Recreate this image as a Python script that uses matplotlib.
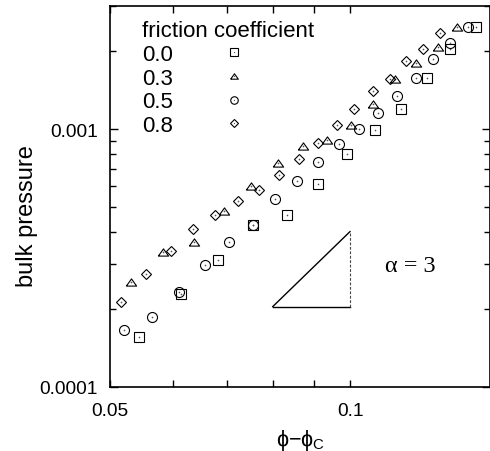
import numpy as np
import matplotlib
matplotlib.use("Agg")
import matplotlib.pyplot as plt
from matplotlib.legend_handler import HandlerTuple
from matplotlib.ticker import FixedLocator, NullFormatter

plt.rcParams["font.family"] = ["Liberation Sans", "DejaVu Sans"]

# friction coefficient 0.0 (squares)
x_00 = [0.0544, 0.0613, 0.0684, 0.0755, 0.0834, 0.0912, 0.0991, 0.1076,
        0.1159, 0.1249, 0.1336, 0.1439]
y_00 = [1.56e-4, 2.29e-4, 3.12e-4, 4.26e-4, 4.64e-4, 6.15e-4, 8.00e-4, 9.91e-4,
        1.20e-3, 1.58e-3, 2.05e-3, 2.49e-3]

# 0.3 (triangles)
x_03 = [0.0531, 0.0582, 0.0638, 0.0694, 0.0751, 0.0812, 0.0873, 0.0937,
        0.1002, 0.1070, 0.1140, 0.1211, 0.1288, 0.1363]
y_03 = [2.56e-4, 3.34e-4, 3.64e-4, 4.81e-4, 6.04e-4, 7.38e-4, 8.63e-4, 9.08e-4,
        1.04e-3, 1.25e-3, 1.57e-3, 1.81e-3, 2.08e-3, 2.49e-3]

# 0.5 (circles)
x_05 = [0.0521, 0.0565, 0.0611, 0.0658, 0.0706, 0.0755, 0.0806, 0.0857,
        0.0912, 0.0969, 0.1026, 0.1085, 0.1146, 0.1209, 0.1271, 0.1336, 0.1405]
y_05 = [1.67e-4, 1.86e-4, 2.34e-4, 2.98e-4, 3.64e-4, 4.26e-4, 5.36e-4, 6.30e-4,
        7.42e-4, 8.77e-4, 1.00e-3, 1.15e-3, 1.34e-3, 1.58e-3, 1.87e-3, 2.16e-3, 2.48e-3]

# 0.8 (diamonds)
x_08 = [0.0516, 0.0555, 0.0596, 0.0635, 0.0678, 0.0723, 0.0769, 0.0815,
        0.0862, 0.0911, 0.0962, 0.1013, 0.1068, 0.1124, 0.1177, 0.1236, 0.1297]
y_08 = [2.13e-4, 2.74e-4, 3.38e-4, 4.08e-4, 4.64e-4, 5.27e-4, 5.83e-4, 6.65e-4,
        7.63e-4, 8.83e-4, 1.04e-3, 1.20e-3, 1.40e-3, 1.56e-3, 1.83e-3, 2.05e-3, 2.35e-3]

labels = ["0.0", "0.3", "0.5", "0.8"]

# slope triangle (alpha = 3)
slope_x = [0.08, 0.1]
slope_y0 = 2.05e-4
slope_y1 = slope_y0 * (slope_x[1] / slope_x[0]) ** 3

tri = [(-1, -0.7), (1, -0.7), (0, 0.7), (-1, -0.7)]
series = [
    (x_00, y_00, "s", 7.2),
    (x_03, y_03, tri, 7.4),
    (x_05, y_05, "o", 7.2),
    (x_08, y_08, "D", 5.0),
]

fig = plt.figure(figsize=(4.9, 4.52), dpi=100)
ax = fig.add_axes([110 / 490, 64 / 452, 380.4 / 490, 381 / 452])

handles = []
for (xs, ys, m, ms) in series:
    h1, = ax.plot(xs, ys, ls="none", marker=m, ms=ms, mfc="none",
                  mec="black", mew=0.8)
    h2, = ax.plot(xs, ys, ls="none", marker="o", ms=1.2, mfc="#555555",
                  mec="none")
    handles.append((h1, h2))

ax.plot(slope_x, [slope_y0, slope_y1], color="black", lw=1.0)
ax.plot(slope_x, [slope_y0, slope_y0], color="black", lw=1.0)
ax.plot([slope_x[1], slope_x[1]], [slope_y0, slope_y1], color="#444444",
        lw=0.8, ls=(0, (2.5, 1.5)))
ax.text(0.79, 0.318, "α = 3", transform=ax.transAxes, ha="center",
        va="center", fontsize=17.5, family="Liberation Serif")

ax.set_xscale("log")
ax.set_yscale("log")
ax.set_xlim(0.05, 0.15)
ax.set_ylim(1e-4, 3e-3)

ax.xaxis.set_major_locator(FixedLocator([0.05, 0.1]))
ax.xaxis.set_minor_locator(FixedLocator([0.06, 0.07, 0.08, 0.09]))
ax.set_xticklabels(["0.05", "0.1"])
ax.xaxis.set_minor_formatter(NullFormatter())
ax.yaxis.set_major_locator(FixedLocator([1e-4, 1e-3]))
ax.yaxis.set_minor_locator(FixedLocator(
    [2e-4, 3e-4, 4e-4, 5e-4, 6e-4, 7e-4, 8e-4, 9e-4, 2e-3, 3e-3]))
ax.set_yticklabels(["0.0001", "0.001"])
ax.yaxis.set_minor_formatter(NullFormatter())

ax.tick_params(which="both", direction="in", top=True, right=True,
               labelsize=13.8, width=1.0, color="black")
ax.tick_params(axis="y", which="major", length=6, pad=9)
ax.tick_params(axis="y", which="minor", length=4)
ax.tick_params(axis="x", which="both", length=5, pad=11)
for sp in ax.spines.values():
    sp.set_linewidth(1.2)

ax.set_ylabel("bulk pressure", fontsize=17)
ax.yaxis.set_label_coords(-0.19, 0.45)
ax.set_xlabel("ϕ−ϕ$_{\\mathregular{C}}$", fontsize=15.5)
ax.xaxis.set_label_coords(0.502, -0.105)

ax.legend(handles, labels, handler_map={tuple: HandlerTuple(ndivide=1)},
          title="friction coefficient", title_fontsize=16, fontsize=16,
          loc="upper left", bbox_to_anchor=(0.084, 0.9625), frameon=False,
          markerfirst=False, alignment="left", handletextpad=1.75,
          labelspacing=0.12, borderpad=0, borderaxespad=0, handlelength=2.0,
          markerscale=0.75)

fig.savefig("out.png", dpi=100)
